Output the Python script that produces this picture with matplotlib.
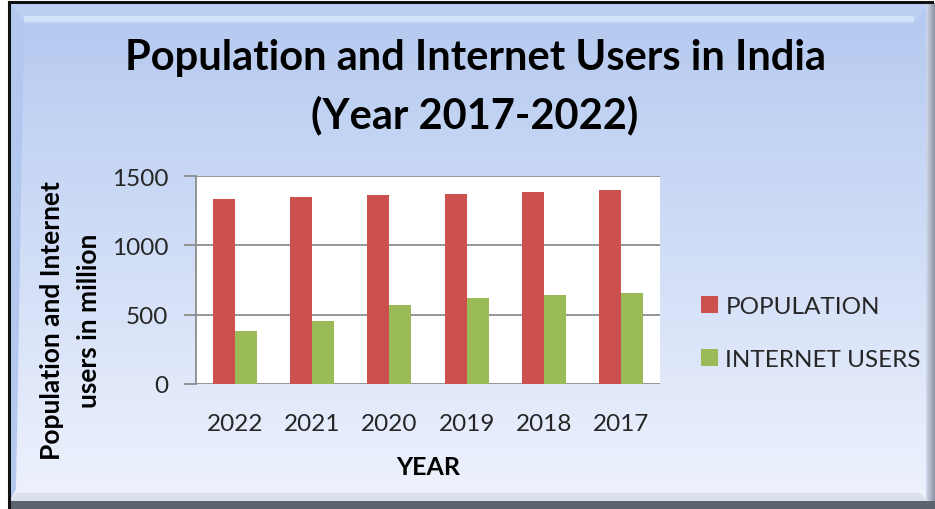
import matplotlib
matplotlib.use("Agg")
import matplotlib.pyplot as plt
import matplotlib.patches as mpatches
import numpy as np

plt.rcParams["font.family"] = ["Lato", "DejaVu Sans"]

years = ["2022", "2021", "2020", "2019", "2018", "2017"]
population = [1332, 1345, 1361, 1373, 1387, 1397]
internet_users = [380, 456, 569, 617, 641, 653]

RED = "#CC504D"
GREEN = "#9BBB59"
TEXT = "#262626"

W, H = 935, 510
fig = plt.figure(figsize=(W / 100, H / 100), dpi=100)
fig.patch.set_facecolor("white")

# ── background panel (pixel coords) ──────────────────────────────────────────
bg = fig.add_axes([0, 0, 1, 1], zorder=-10)
bg.set_xlim(0, W)
bg.set_ylim(H, 0)
bg.axis("off")

top_c = np.array([180, 201, 240]) / 255
bot_c = np.array([238, 242, 253]) / 255
t = np.linspace(0, 1, 256)[:, None]
grad = (top_c[None, :] * (1 - t) + bot_c[None, :] * t)[:, None, :]
bg.imshow(grad, extent=(10, 928, 502, 4), aspect="auto", zorder=0)

# bevel edges
bg.add_patch(mpatches.Polygon([(10, 4), (932, 4), (912, 25), (26, 25)],
                              closed=True, color="#BACFF2", zorder=1, lw=0))
bg.add_patch(mpatches.Rectangle((24, 17), 890, 6, color="#D2E2F8", zorder=2, lw=0))
bg.add_patch(mpatches.Polygon([(10, 4), (24, 24), (16, 490), (10, 502)],
                              closed=True, color="#B3C8EE", zorder=1, lw=0))
rc = np.linspace(0, 1, 64)[None, :]
right_grad = (np.array([210, 218, 238]) / 255 * (1 - rc[..., None])
              + np.array([140, 146, 160]) / 255 * rc[..., None])
bg.imshow(right_grad, extent=(926, 935, 502, 4), aspect="auto", zorder=2)
bg.add_patch(mpatches.Polygon([(10, 502), (16, 494), (920, 494), (928, 502)],
                              closed=True, color="#DCE0EA", zorder=3, lw=0))
bg.add_patch(mpatches.Rectangle((8, 502), W - 8, 8, color="#5E646E", zorder=4, lw=0))
bg.plot([8.5, 8.5], [3, 510], color="#111111", lw=2.2, zorder=5)
bg.plot([8.5, 932], [3, 3], color="#111111", lw=2.2, zorder=5)

# ── chart ────────────────────────────────────────────────────────────────────
ax = fig.add_axes([196 / W, 1 - 385 / H, (660 - 196) / W, (385 - 177) / H])
ax.set_facecolor("white")

x = np.arange(len(years))
bw = 0.285
ax.bar(x - bw / 2, population, bw, color=RED, label="POPULATION", zorder=3)
ax.bar(x + bw / 2, internet_users, bw, color=GREEN, label="INTERNET USERS", zorder=3)

ax.set_xlim(-0.5, len(years) - 0.5)
ax.set_ylim(0, 1500)
ax.set_yticks([0, 500, 1000, 1500])
ax.yaxis.grid(True, color="#8C8C8C", lw=1.3, zorder=1)
ax.set_axisbelow(True)
for side in ("top", "right", "bottom"):
    ax.spines[side].set_visible(False)
ax.spines["left"].set_color("#8C8C8C")
ax.spines["left"].set_linewidth(1.3)
ax.tick_params(axis="y", length=9, width=1.3, color="#8C8C8C",
               labelsize=17.5, labelcolor=TEXT, pad=11)
ax.tick_params(axis="x", length=0, labelsize=17.5, labelcolor=TEXT, pad=21)
ax.set_xticks(x)
ax.set_xticklabels(years)

ax.set_xlabel("YEAR", fontsize=18, fontweight="bold", color="black", labelpad=15)

fig.text(52 / W, 1 - 321 / H, "Population and Internet", rotation=90,
         ha="center", va="center", fontsize=19, fontweight="bold", color="black")
fig.text(89 / W, 1 - 321 / H, "users in million", rotation=90,
         ha="center", va="center", fontsize=19, fontweight="bold", color="black")

fig.text(475 / W, 1 - 58 / H, "Population and Internet Users in India",
         ha="center", va="center", fontsize=30, fontweight="bold", color="black")
fig.text(475 / W, 1 - 115 / H, "(Year 2017-2022)",
         ha="center", va="center", fontsize=30, fontweight="bold", color="black")

leg = ax.legend(loc="center left", bbox_to_anchor=(701 / W, 1 - 334 / H),
                bbox_transform=fig.transFigure, frameon=False, fontsize=17.5,
                handlelength=0.7, handleheight=0.7, handletextpad=0.3,
                labelspacing=1.35, borderaxespad=0, borderpad=0)
for txt in leg.get_texts():
    txt.set_color(TEXT)

fig.savefig("out.png", dpi=100)
